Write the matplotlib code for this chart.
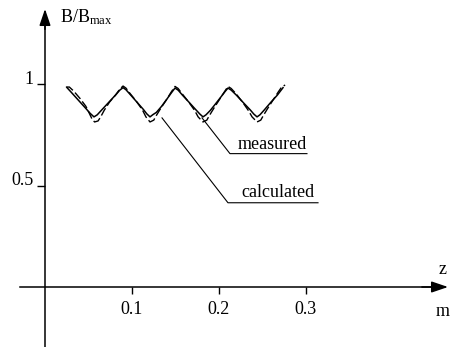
import matplotlib
matplotlib.use("Agg")
import matplotlib.pyplot as plt

plt.rcParams['font.family'] = ['Liberation Serif', 'DejaVu Serif']
plt.rcParams['mathtext.fontset'] = 'custom'
plt.rcParams['mathtext.rm'] = 'Liberation Serif'

# measured field profile (solid)
z_meas = [0.0253, 0.030, 0.038, 0.046, 0.052, 0.0563, 0.060,
          0.066, 0.074, 0.082, 0.086, 0.0897, 0.093,
          0.098, 0.106, 0.113, 0.117, 0.1207, 0.124,
          0.128, 0.134, 0.140, 0.145, 0.1494, 0.153,
          0.158, 0.166, 0.173, 0.178, 0.1816, 0.185,
          0.190, 0.196, 0.202, 0.207, 0.2103, 0.214,
          0.220, 0.228, 0.236, 0.240, 0.2437, 0.247,
          0.252, 0.260, 0.267, 0.2736]
b_meas = [0.982, 0.960, 0.922, 0.884, 0.855, 0.838, 0.848,
          0.876, 0.913, 0.950, 0.970, 0.982, 0.972,
          0.948, 0.909, 0.875, 0.853, 0.838, 0.849,
          0.860, 0.890, 0.925, 0.955, 0.980, 0.970,
          0.945, 0.908, 0.875, 0.852, 0.838, 0.848,
          0.870, 0.902, 0.935, 0.963, 0.980, 0.970,
          0.945, 0.908, 0.872, 0.852, 0.838, 0.848,
          0.872, 0.912, 0.945, 0.982]

# calculated field profile (dashed)
z_calc = [0.024, 0.028, 0.033, 0.040, 0.047, 0.051, 0.054, 0.057, 0.061, 0.064,
          0.068, 0.074, 0.081, 0.086, 0.0897, 0.093, 0.098, 0.105, 0.112, 0.116,
          0.1207, 0.125, 0.128, 0.133, 0.140, 0.145, 0.1494, 0.153, 0.158, 0.165,
          0.172, 0.176, 0.1816, 0.186, 0.189, 0.194, 0.200, 0.206, 0.2103, 0.214,
          0.220, 0.228, 0.234, 0.238, 0.2437, 0.248, 0.251, 0.256, 0.262, 0.268,
          0.272, 0.276]
b_calc = [0.985, 0.985, 0.965, 0.930, 0.890, 0.855, 0.828, 0.813, 0.818, 0.838,
          0.870, 0.910, 0.945, 0.975, 0.990, 0.980, 0.952, 0.915, 0.872, 0.838,
          0.813, 0.822, 0.845, 0.880, 0.925, 0.960, 0.988, 0.978, 0.950, 0.912,
          0.870, 0.838, 0.813, 0.822, 0.845, 0.880, 0.920, 0.960, 0.988, 0.978,
          0.950, 0.905, 0.868, 0.838, 0.813, 0.822, 0.845, 0.880, 0.920, 0.960,
          0.985, 0.995]

x_ticks = [0.1, 0.2, 0.3]
y_ticks = [0.5, 1.0]
y_tick_labels = ['0.5', '1']

# label text, leader line (start, elbow, end) and text anchor
labels = ['measured', 'calculated']
leader_pts = [[(0.1805, 0.833), (0.2126, 0.657), (0.3011, 0.657)],
              [(0.1345, 0.833), (0.2103, 0.415), (0.3138, 0.415)]]
label_pos = [(0.2218, 0.680), (0.2253, 0.443)]

fig = plt.figure(figsize=(4.56, 3.47), dpi=100)
ax = fig.add_axes([0, 0, 1, 1])
xmin, xmax = -45 / 870, 411 / 870
ymin, ymax = -60 / 203, 287 / 203
ax.set_xlim(xmin, xmax)
ax.set_ylim(ymin, ymax)

ax.plot(z_meas, b_meas, color='black', lw=1.1)
ax.plot(z_calc, b_calc, color='black', lw=1.0, linestyle=(0, (6, 2.2)))

for pts, txt, pos in zip(leader_pts, labels, label_pos):
    xs, ys = zip(*pts)
    ax.plot(xs, ys, color='black', lw=0.8)
    ax.text(pos[0], pos[1], txt, fontsize=13, ha='left', va='baseline')

# axes through the origin, with arrow heads
x_tip, y_tip = 403 / 870, 278 / 203
for s in ['top', 'right']:
    ax.spines[s].set_visible(False)
ax.spines['left'].set_position(('data', 0))
ax.spines['bottom'].set_position(('data', 0))
ax.spines['left'].set_bounds(ymin, y_tip - 0.06)
ax.spines['bottom'].set_bounds(-25 / 870, x_tip - 0.015)
ax.spines['left'].set_linewidth(1.1)
ax.spines['bottom'].set_linewidth(1.1)
ax.annotate('', xy=(0, y_tip), xytext=(0, y_tip - 0.1),
            arrowprops=dict(arrowstyle='-|>,head_length=0.5,head_width=0.17',
                            mutation_scale=20, lw=1.1, color='black',
                            shrinkA=0, shrinkB=0))
ax.annotate('', xy=(x_tip, 0), xytext=(x_tip - 0.03, 0),
            arrowprops=dict(arrowstyle='-|>,head_length=0.5,head_width=0.17',
                            mutation_scale=20, lw=1.1, color='black',
                            shrinkA=0, shrinkB=0))

ax.set_xticks(x_ticks)
ax.set_xticklabels([str(t) for t in x_ticks])
ax.set_yticks(y_ticks)
ax.set_yticklabels(y_tick_labels)
ax.tick_params(axis='x', direction='out', length=5, width=1.0, pad=5, labelsize=13)
ax.tick_params(axis='y', direction='out', length=6, width=1.0, pad=2, labelsize=13)
for lab in ax.get_yticklabels():
    lab.set_verticalalignment('baseline')

ax.text(15 / 870, 1.33, r'$\mathrm{B/B_{max}}$', fontsize=13, ha='left', va='center')
ax.text(398 / 870, 0.084, 'z', fontsize=13, ha='center', va='center')
ax.text(398 / 870, -0.123, 'm', fontsize=13, ha='center', va='center')

fig.savefig('out.png', dpi=100)
